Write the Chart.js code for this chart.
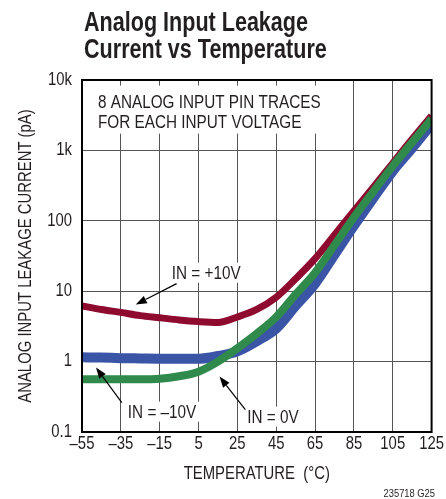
<!DOCTYPE html>
<html><head><meta charset="utf-8">
<script src="https://cdn.jsdelivr.net/npm/chart.js@4.4.1/dist/chart.umd.min.js"></script>
<style>html,body{margin:0;padding:0;background:#fff}canvas{display:block}</style>
</head><body>
<canvas id="c" width="446" height="499"></canvas>
<script>
// ---- data ----
const temperatures = [-55,-45,-35,-25,-15,-5,5,15,25,35,45,55,65,75,85,95,105,115,125];
const leakIn0V     = [0.56,0.56,0.56,0.56,0.57,0.62,0.72,1.0,1.55,2.5,4.3,9,18.3,45,112,260,598,1300,2800];
const leakInMinus10 = [1.15,1.14,1.12,1.11,1.1,1.1,1.1,1.2,1.4,1.95,2.95,6.2,12.8,33,85,210,508,1080,2365];
const leakInPlus10 = [6.2,5.5,5.0,4.5,4.2,3.9,3.7,3.6,4.3,5.5,8.2,15,29,63,138,300,660,1450,3100];
const xTickValues = [-55,-35,-15,5,25,45,65,85,105,125];
const yTickValues = [0.1,1,10,100,1000,10000];
const yTickLabels = ['0.1','1','10','100','1k','10k'];
const titleLines = ['Analog Input Leakage','Current vs Temperature'];
const noteLines = ['8 ANALOG INPUT PIN TRACES','FOR EACH INPUT VOLTAGE'];
const xTitle = 'TEMPERATURE  (\u00B0C)';
const yTitle = 'ANALOG INPUT LEAKAGE CURRENT (pA)';
const footnote = '235718 G25';
// labels: text anchor (temperature, current) and arrow from -> to, in data units
const labels = [
  {text:'IN = +10V', at:[-8.8,15.1], from:[-6.3,12.8], to:[-27.3,6.45]},
  {text:'IN = \u201310V', at:[-31.4,0.160], from:[-34.5,0.262], to:[-47.8,0.822]},
  {text:'IN = 0V', at:[30.1,0.136], from:[29.1,0.208], to:[15.8,0.612]}
];
const noteAnchor = [-46.8, 4055];

const FAM = '"Liberation Sans",Arial,sans-serif';
const TXT = '#231F20';
const RED = '#8E0B2F', BLUE = '#3B55A6', GREEN = '#2F8A4C';
const NARROW = 0.85, TITLE_NARROW = 0.77;

// horizontally condensed text rendering (emulates a condensed typeface)
(function(){
  const P = CanvasRenderingContext2D.prototype;
  const fill = P.fillText, measure = P.measureText;
  P.fillText = function(t, x, y, mw){
    const k = this.__condense;
    if (!k || k === 1) return mw === undefined ? fill.call(this,t,x,y) : fill.call(this,t,x,y,mw);
    this.save(); this.translate(x,y); this.scale(k,1);
    if (mw === undefined) fill.call(this,t,0,0); else fill.call(this,t,0,0,mw/k);
    this.restore();
  };
  P.measureText = function(t){
    const m = measure.call(this,t);
    const k = this.__condense;
    if (!k || k === 1) return m;
    return {width:m.width*k,
      actualBoundingBoxAscent:m.actualBoundingBoxAscent, actualBoundingBoxDescent:m.actualBoundingBoxDescent,
      actualBoundingBoxLeft:m.actualBoundingBoxLeft*k, actualBoundingBoxRight:m.actualBoundingBoxRight*k,
      fontBoundingBoxAscent:m.fontBoundingBoxAscent, fontBoundingBoxDescent:m.fontBoundingBoxDescent};
  };
})();

function pts(vals){ return temperatures.map((t,i)=>({x:t,y:vals[i]})); }
function fmtX(v){ return v < 0 ? '\u2013' + Math.abs(v) : String(v); }

const annotate = {
  id:'annotate',
  beforeDatasetsDraw(chart){
    const {ctx, scales:{x,y}} = chart;
    ctx.save();
    ctx.font = '18px ' + FAM;
    ctx.textBaseline = 'alphabetic';
    ctx.textAlign = 'left';
    const nx = x.getPixelForValue(noteAnchor[0]), ny = y.getPixelForValue(noteAnchor[1]);
    const w = Math.max(...noteLines.map(s=>ctx.measureText(s).width));
    ctx.fillStyle = '#fff';
    ctx.fillRect(nx-10, ny-22, w+20, 48);
    ctx.fillStyle = TXT;
    noteLines.forEach((s,i)=>ctx.fillText(s, nx, ny + i*20.5));
    labels.forEach(l=>{
      const lx = x.getPixelForValue(l.at[0]), ly = y.getPixelForValue(l.at[1]);
      const tw = ctx.measureText(l.text).width;
      ctx.fillStyle = '#fff';
      ctx.fillRect(lx-4, ly-16, tw+8, 20);
      ctx.fillStyle = TXT;
      ctx.fillText(l.text, lx, ly);
    });
    ctx.restore();
  },
  afterDatasetsDraw(chart){
    const {ctx, chartArea:a, scales:{x,y}} = chart;
    ctx.save();
    labels.forEach(l=>{
      const x1 = x.getPixelForValue(l.from[0]), y1 = y.getPixelForValue(l.from[1]);
      const x2 = x.getPixelForValue(l.to[0]), y2 = y.getPixelForValue(l.to[1]);
      const ang = Math.atan2(y2-y1, x2-x1);
      const hl = 11, hw = 4;
      const bx = x2 - hl*Math.cos(ang), by = y2 - hl*Math.sin(ang);
      ctx.strokeStyle = '#000'; ctx.lineWidth = 1.2;
      ctx.beginPath(); ctx.moveTo(x1,y1); ctx.lineTo(bx,by); ctx.stroke();
      ctx.beginPath();
      ctx.moveTo(x2,y2);
      ctx.lineTo(bx + hw*Math.sin(ang), by - hw*Math.cos(ang));
      ctx.lineTo(bx - hw*Math.sin(ang), by + hw*Math.cos(ang));
      ctx.closePath();
      ctx.fillStyle = '#000'; ctx.fill();
    });
    ctx.strokeStyle = '#000'; ctx.lineWidth = 2;
    ctx.strokeRect(a.left, a.top, a.right-a.left, a.bottom-a.top);
    ctx.restore();
  },
  afterDraw(chart){
    const {ctx} = chart;
    ctx.save();
    ctx.fillStyle = TXT;
    ctx.textAlign = 'left';
    ctx.textBaseline = 'alphabetic';
    ctx.__condense = TITLE_NARROW;
    ctx.font = 'bold 28px ' + FAM;
    titleLines.forEach((s,i)=>ctx.fillText(s, 84, 31 + i*27));
    ctx.__condense = NARROW;
    ctx.font = '11px ' + FAM;
    ctx.textAlign = 'right';
    ctx.fillText(footnote, 435, 497);
    ctx.restore();
  }
};

const canvas = document.getElementById('c');
canvas.getContext('2d').__condense = NARROW;

new Chart(canvas, {
  type:'line',
  data:{datasets:[
    {label:'IN = 0V', data:pts(leakIn0V), borderColor:GREEN, borderWidth:8},
    {label:'IN = -10V', data:pts(leakInMinus10), borderColor:BLUE, borderWidth:10},
    {label:'IN = +10V', data:pts(leakInPlus10), borderColor:RED, borderWidth:7}
  ]},
  options:{
    responsive:false, animation:false, devicePixelRatio:1,
    datasets:{line:{pointRadius:0, fill:false, cubicInterpolationMode:'monotone', borderCapStyle:'butt'}},
    layout:{padding:{left:0,right:13,top:80,bottom:0}},
    plugins:{legend:{display:false}, tooltip:{enabled:false}, title:{display:false}},
    scales:{
      x:{type:'linear', min:-55, max:125,
        afterBuildTicks:s=>{ s.ticks = xTickValues.map(v=>({value:v})); },
        afterFit:s=>{ s.height = 67; },
        ticks:{callback:v=>fmtX(v), font:{family:FAM,size:17.5}, color:TXT, padding:2, maxRotation:0, autoSkip:false},
        grid:{color:'#555', lineWidth:1, drawTicks:false},
        border:{color:'#000', width:2},
        title:{display:true, text:xTitle, font:{family:FAM,size:17.5}, color:TXT, padding:{top:0,bottom:14}}
      },
      y:{type:'logarithmic', min:0.1, max:10000,
        afterBuildTicks:s=>{ s.ticks = yTickValues.map(v=>({value:v})); },
        afterFit:s=>{ s.width = 82; },
        ticks:{callback:(v)=>{ const i = yTickValues.indexOf(v); return i>=0 ? yTickLabels[i] : ''; }, font:{family:FAM,size:17.5}, color:TXT, padding:10, autoSkip:false},
        grid:{color:'#555', lineWidth:1, drawTicks:false},
        border:{color:'#000', width:2},
        title:{display:true, text:yTitle, font:{family:FAM,size:17.5}, color:TXT, padding:{top:16,bottom:0}}
      }
    }
  },
  plugins:[annotate]
});
</script>
</body></html>
